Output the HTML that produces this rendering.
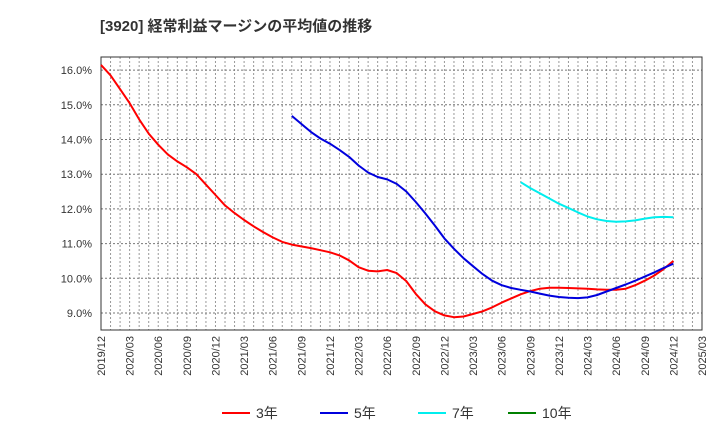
<!DOCTYPE html>
<html><head><meta charset="utf-8"><style>
body{margin:0;background:#fff;width:720px;height:440px;overflow:hidden;font-family:"Liberation Sans","Noto Sans CJK JP",sans-serif;}
</style></head><body>
<svg id="chart" width="720" height="440" xmlns="http://www.w3.org/2000/svg"></svg>
<script>
const xLabels=["2019/12","2020/03","2020/06","2020/09","2020/12","2021/03","2021/06","2021/09","2021/12","2022/03","2022/06","2022/09","2022/12","2023/03","2023/06","2023/09","2023/12","2024/03","2024/06","2024/09","2024/12","2025/03"];
const yTicks=[9,10,11,12,13,14,15,16];
const red3Start=0;
const red3=[16.15,15.85,15.45,15.05,14.58,14.17,13.85,13.57,13.37,13.2,13.0,12.7,12.4,12.1,11.88,11.68,11.5,11.33,11.18,11.05,10.97,10.92,10.87,10.81,10.75,10.66,10.52,10.32,10.22,10.2,10.24,10.15,9.92,9.55,9.25,9.05,8.93,8.88,8.9,8.97,9.05,9.16,9.3,9.42,9.54,9.63,9.7,9.73,9.73,9.72,9.71,9.7,9.68,9.67,9.67,9.7,9.8,9.93,10.08,10.27,10.5];
const blue5Start=20;
const blue5=[14.68,14.45,14.22,14.03,13.88,13.7,13.5,13.25,13.05,12.92,12.85,12.72,12.5,12.2,11.87,11.52,11.15,10.85,10.58,10.35,10.12,9.93,9.8,9.72,9.67,9.62,9.56,9.5,9.46,9.44,9.43,9.45,9.52,9.62,9.72,9.82,9.93,10.05,10.17,10.3,10.42];
const cyan7Start=44;
const cyan7=[12.77,12.6,12.45,12.3,12.15,12.03,11.9,11.78,11.7,11.65,11.63,11.64,11.67,11.72,11.76,11.77,11.76];
const green10Start=0;
const green10=[];

const L=101,R=702,T=57,B=330;
const totalMonths=63;
function xs(m){return L+(R-L)*m/totalMonths;}
function ys(v){return 313-(v-9)*34.7;}
const NS="http://www.w3.org/2000/svg";
const svg=document.getElementById('chart');
function mk(tag,attrs,parent){const e=document.createElementNS(NS,tag);for(const k in attrs)e.setAttribute(k,attrs[k]);(parent||svg).appendChild(e);return e;}

const title=mk('text',{x:100,y:31,'font-size':15,'font-weight':'bold',fill:'#333'});


title.textContent='[3920]  経常利益マージンの平均値の推移';

const grid=mk('g',{});


for(let m=1;m<totalMonths;m++){
  mk('line',{x1:xs(m),x2:xs(m),y1:T,y2:B,stroke:'#999','stroke-dasharray':'2,2','stroke-width':1},grid);
}
yTicks.forEach(v=>{
  mk('line',{x1:L,x2:R,y1:ys(v),y2:ys(v),stroke:'#777','stroke-dasharray':'2,2','stroke-width':1},grid);
  const t=mk('text',{x:92,y:ys(v)+4,'font-size':11,'text-anchor':'end',fill:'#333'});
  
  
  t.textContent=v.toFixed(1)+'%';
});
xLabels.forEach((lab,i)=>{
  const x=xs(i*3);
  const t=mk('text',{x:0,y:0,'font-size':11,'text-anchor':'end',fill:'#333',transform:`translate(${x+4},336) rotate(-90)`});
  
  
  t.textContent=lab;
});
const frame=mk('rect',{x:L,y:T,width:R-L,height:B-T,fill:'none',stroke:'#333','stroke-width':1});



function series(arr,start,color,name){
  if(!arr.length)return;
  const d=arr.map((v,i)=>(i?'L':'M')+xs(start+i).toFixed(1)+','+ys(v).toFixed(1)).join(' ');
  const p=mk('path',{d:d,fill:'none',stroke:color,'stroke-width':2,'stroke-linejoin':'round'});
  
  
}
series(red3,red3Start,'#ff0000','line-3y');
series(blue5,blue5Start,'#0000dd','line-5y');
series(cyan7,cyan7Start,'#00eeee','line-7y');
series(green10,green10Start,'#008000','line-10y');

const legend=[['3年','#ff0000',222],['5年','#0000dd',320],['7年','#00eeee',418],['10年','#008000',508]];
legend.forEach(([lab,c,x])=>{
  const g=mk('g',{});
  
  
  mk('line',{x1:x,x2:x+28,y1:413,y2:413,stroke:c,'stroke-width':2},g);
  const t=mk('text',{x:x+34,y:418,'font-size':14,fill:'#333'},g);
  t.textContent=lab;
});
</script>
</body></html>
